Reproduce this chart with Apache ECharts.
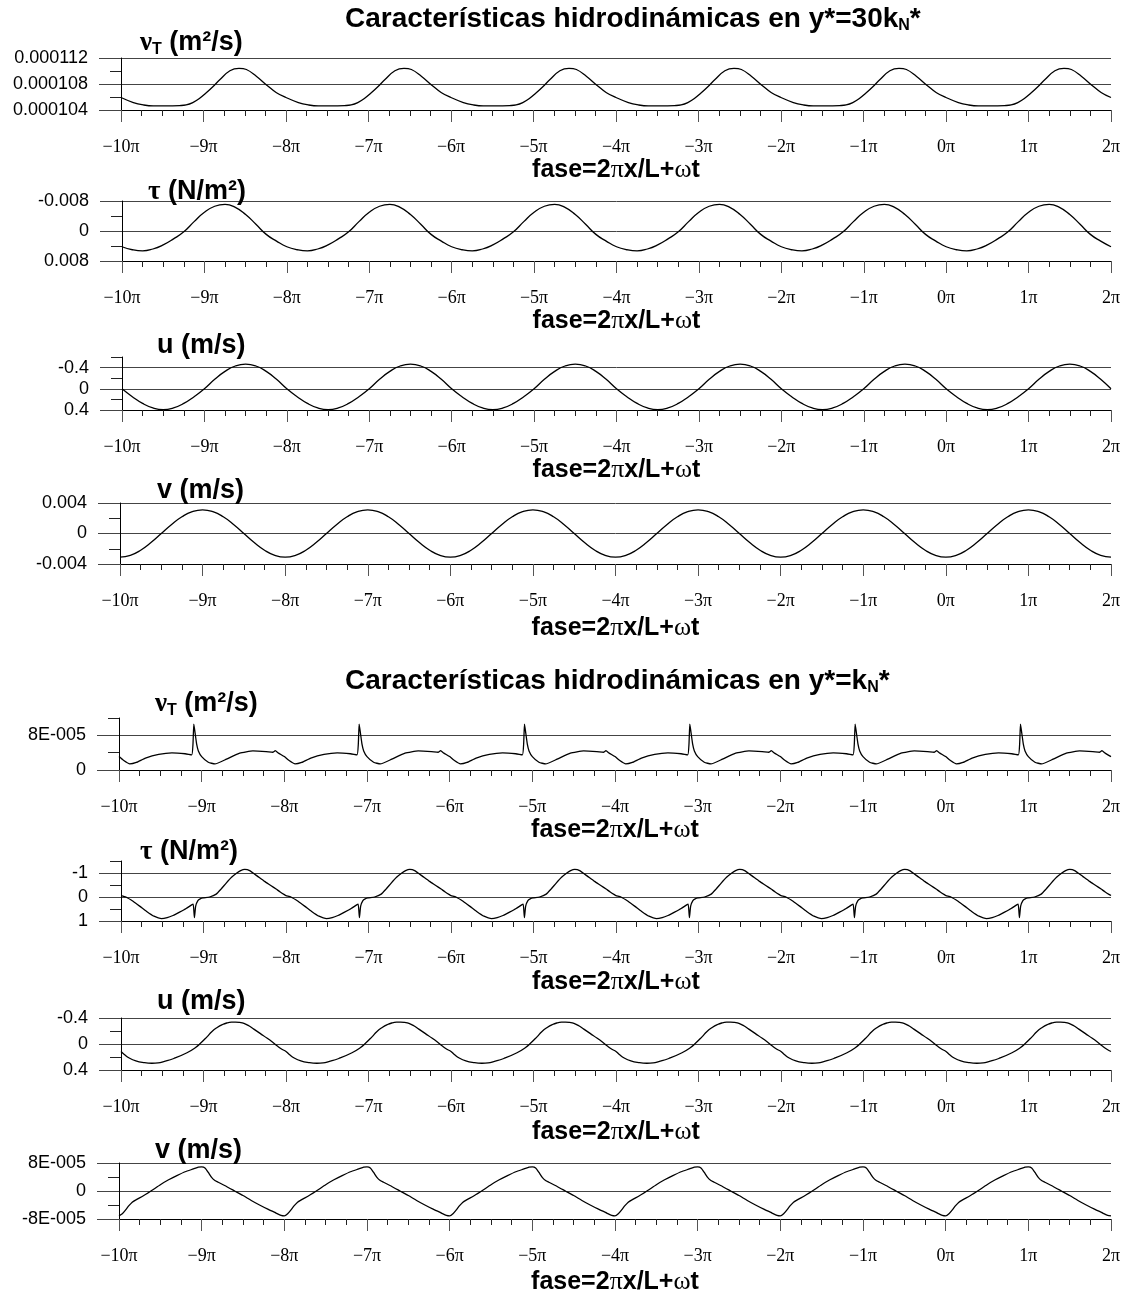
<!DOCTYPE html>
<html><head><meta charset="utf-8">
<script src="https://cdn.jsdelivr.net/npm/echarts@6/dist/echarts.min.js"></script>
<style>html,body{margin:0;padding:0;background:#fff}#c{width:1128px;height:1296px}</style>
</head><body><div id="c"></div>
<script>
// ---------- DATA ----------
// x axis: phase in units of pi, ticks from -10pi to 2pi
const xMin = -10, xMax = 2;
const xTickValues = [-10,-9,-8,-7,-6,-5,-4,-3,-2,-1,0,1,2];
// Panel 1: nu_T (m2/s) at y*=30kN*
const nuT1Phase = [0,0.15,0.27,0.39,0.55,0.71,0.79,0.87,0.95,1.03,1.11,1.2,1.32,1.43,1.52,1.64,1.76,1.88];
const nuT1Vals  = [1.0592e-4,1.0514e-4,1.0478e-4,1.0462e-4,1.0462e-4,1.0468e-4,1.0478e-4,1.0514e-4,1.0577e-4,1.0660e-4,1.0753e-4,1.0868e-4,1.1003e-4,1.1040e-4,1.1023e-4,1.0920e-4,1.0790e-4,1.0670e-4];
// Panel 2: tau (N/m2)
const tau1Phase = [0,0.125,0.25,0.375,0.5,0.625,0.75,0.875,1,1.125,1.25,1.375,1.5,1.625,1.75,1.875];
const tau1Vals  = [0.0042,0.0050,0.0053,0.0048,0.0037,0.0021,0.0002,-0.0025,-0.0050,-0.0066,-0.0071,-0.0063,-0.0044,-0.0018,0.0009,0.0027];
// Panel 3: u (m/s)
const u1Phase = [0,0.125,0.25,0.375,0.5,0.625,0.75,0.875,1,1.125,1.25,1.375,1.5,1.625,1.75,1.875];
const u1Vals  = [0,0.149,0.276,0.36,0.392,0.36,0.276,0.149,0,-0.178,-0.329,-0.43,-0.465,-0.43,-0.329,-0.178];
// Panel 4: v (m/s)
const v1Phase = [0,0.125,0.25,0.375,0.5,0.625,0.75,0.875,1,1.125,1.25,1.375,1.5,1.625,1.75,1.875];
const v1Vals  = [-0.0031,-0.00286,-0.00219,-0.00119,0,0.00119,0.00219,0.00286,0.0031,0.00286,0.00219,0.00119,0,-0.00119,-0.00219,-0.00286];
// Panel 5: nu_T (m2/s) at y*=kN*
const nuT2Phase = [0,0.05,0.13,0.21,0.32,0.48,0.64,0.8,0.88,0.895,0.905,0.92,0.94,0.96,1.0,1.08,1.16,1.3,1.46,1.62,1.78,1.86,1.89,1.93];
const nuT2Vals  = [3.1e-5,2.3e-5,1.4e-5,1.75e-5,2.75e-5,3.6e-5,3.95e-5,3.75e-5,3.5e-5,6.0e-5,10.6e-5,8.6e-5,5.9e-5,4.4e-5,3.1e-5,1.8e-5,1.4e-5,2.5e-5,3.9e-5,4.4e-5,4.25e-5,4.1e-5,4.45e-5,3.9e-5];
// Panel 6: tau (N/m2)
const tau2Phase = [0,0.06,0.146,0.23,0.307,0.4,0.489,0.56,0.63,0.71,0.79,0.852,0.875,0.89,0.905,0.932,0.96,0.993,1.074,1.154,1.21,1.275,1.34,1.4,1.45,1.5,1.56,1.66,1.74,1.82,1.88,1.93,1.98];
const tau2Vals  = [-0.06,0,0.18,0.39,0.59,0.8,0.9,0.86,0.77,0.63,0.48,0.34,0.3,0.86,0.38,0.15,0.08,0.04,0,-0.12,-0.32,-0.58,-0.82,-0.99,-1.1,-1.15,-1.1,-0.85,-0.65,-0.47,-0.33,-0.21,-0.1];
// Panel 7: u (m/s)
const u2Phase = [0,0.04,0.1,0.18,0.275,0.376,0.45,0.518,0.64,0.8,0.9,0.963,1.045,1.1,1.166,1.23,1.287,1.34,1.389,1.44,1.49,1.55,1.61,1.69,1.773,1.835,1.895,1.95];
const u2Vals  = [0.115,0.16,0.215,0.26,0.286,0.296,0.29,0.27,0.223,0.135,0.057,-0.01,-0.114,-0.19,-0.255,-0.3,-0.325,-0.336,-0.338,-0.332,-0.317,-0.28,-0.229,-0.16,-0.088,-0.03,0.031,0.08];
// Panel 8: v (m/s)
const v2Phase = [0,0.04,0.08,0.12,0.16,0.2,0.3,0.4,0.5,0.6,0.7,0.8,0.9,0.96,1.0,1.04,1.08,1.12,1.16,1.2,1.3,1.4,1.5,1.6,1.7,1.8,1.9,1.96];
const v2Vals  = [-7.1e-5,-6.5e-5,-5.4e-5,-4.2e-5,-3.2e-5,-2.6e-5,-1.3e-5,0.2e-5,1.8e-5,3.2e-5,4.4e-5,5.5e-5,6.3e-5,6.8e-5,6.9e-5,6.6e-5,5.3e-5,3.9e-5,3.0e-5,2.5e-5,1.3e-5,0,-1.3e-5,-2.7e-5,-4.0e-5,-5.2e-5,-6.3e-5,-6.95e-5];

// y axis ranges and tick values
const nuT1Range = [0.000104, 0.000112]; const nuT1Major = [0.000104,0.000108,0.000112]; const nuT1Minor = [0.000106,0.000110];
const tau1Range = [-0.008, 0.008];      const tau1Major = [-0.008,0,0.008];            const tau1Minor = [-0.004,0.004];
const u1Range   = [-0.6, 0.4];          const u1Major   = [-0.4,0,0.4];                const u1Minor   = [-0.6,-0.2,0.2];
const v1Range   = [-0.004, 0.004];      const v1Major   = [-0.004,0,0.004];            const v1Minor   = [-0.002,0.002];
const nuT2Range = [0, 0.00012];         const nuT2Major = [0,0.00008];                 const nuT2Minor = [0.00004,0.00012];
const tau2Range = [-1.5, 1];            const tau2Major = [-1,0,1];                    const tau2Minor = [-1.5,-0.5,0.5];
const u2Range   = [-0.4, 0.4];          const u2Major   = [-0.4,0,0.4];                const u2Minor   = [-0.2,0.2];
const v2Range   = [-0.00008, 0.00008];  const v2Major   = [-0.00008,0,0.00008];        const v2Minor   = [-0.00004,0.00004];

const title1 = 'Características hidrodinámicas en y*=30k';
const title2 = 'Características hidrodinámicas en y*=k';
const xName = '{b|fase=2}{g|π}{b|x/L+}{g|ω}{b|t}';

// ---------- BUILD ----------
function tile(phase, vals) {
  const out = [];
  for (let k = 0; k < 6; k++) for (let i = 0; i < phase.length; i++) out.push([xMin + 2 * k + phase[i], vals[i]]);
  out.push([xMax, vals[0]]);
  return out;
}
function fmtE(v) {
  if (v === 0) return '0';
  const e = Math.floor(Math.log10(Math.abs(v)) + 1e-9);
  const m = Math.round(v / Math.pow(10, e) * 100) / 100;
  return m + 'E' + (e < 0 ? '-' : '+') + String(Math.abs(e)).padStart(3, '0');
}
const fix = n => v => (v === 0 ? '0' : v.toFixed(n));

const panels = [
  {data: tile(nuT1Phase, nuT1Vals), range: nuT1Range, major: nuT1Major, minor: nuT1Minor, inv: false, fmt: fix(6), smooth: 0.4},
  {data: tile(tau1Phase, tau1Vals), range: tau1Range, major: tau1Major, minor: tau1Minor, inv: true,  fmt: fix(3), smooth: 0.5},
  {data: tile(u1Phase, u1Vals),     range: u1Range,   major: u1Major,   minor: u1Minor,   inv: true,  fmt: fix(1), smooth: 0.5},
  {data: tile(v1Phase, v1Vals),     range: v1Range,   major: v1Major,   minor: v1Minor,   inv: false, fmt: fix(3), smooth: 0.5},
  {data: tile(nuT2Phase, nuT2Vals), range: nuT2Range, major: nuT2Major, minor: nuT2Minor, inv: false, fmt: fmtE,   smooth: 0.15},
  {data: tile(tau2Phase, tau2Vals), range: tau2Range, major: tau2Major, minor: tau2Minor, inv: true,  fmt: v => String(v), smooth: 0.15},
  {data: tile(u2Phase, u2Vals),     range: u2Range,   major: u2Major,   minor: u2Minor,   inv: true,  fmt: fix(1), smooth: 0.5},
  {data: tile(v2Phase, v2Vals),     range: v2Range,   major: v2Major,   minor: v2Minor,   inv: false, fmt: fmtE,   smooth: 0.2}
];
// layout (pixels)
const gLeft   = [121,122,122,120,119,121,121,119];
const gTop    = [58,201,357,503,718,861,1018,1163];
const gBottom = [110,261,410,564,770,921,1070,1224];
const nameGaps = [40,40,43,51,47,48,49,50];

const richBase = {
  b: {fontFamily: 'Liberation Sans', fontWeight: 'bold', fontSize: 27, lineHeight: 30, color: '#000'},
  g: {fontFamily: 'Liberation Serif', fontSize: 27, lineHeight: 30, color: '#000'},
  s: {fontFamily: 'Liberation Sans', fontWeight: 'bold', fontSize: 16, lineHeight: 16, verticalAlign: 'bottom', color: '#000'}
};
const richTitle = {
  b: {fontFamily: 'Liberation Sans', fontWeight: 'bold', fontSize: 28, lineHeight: 30, color: '#000'},
  s: {fontFamily: 'Liberation Sans', fontWeight: 'bold', fontSize: 16, lineHeight: 16, verticalAlign: 'bottom', color: '#000'}
};
const labelDefs = [
  {t: '{g|ν}{s|T}{b| (m²/s)}', x: 140, y: 28},
  {t: '{g|τ}{b| (N/m²)}', x: 148, y: 177},
  {t: '{b|u (m/s)}', x: 157, y: 331},
  {t: '{b|v (m/s)}', x: 157, y: 476},
  {t: '{g|ν}{s|T}{b| (m²/s)}', x: 155, y: 689},
  {t: '{g|τ}{b| (N/m²)}', x: 140, y: 837},
  {t: '{b|u (m/s)}', x: 157, y: 987},
  {t: '{b|v (m/s)}', x: 155, y: 1136}
];

const grid = [], xAxis = [], yAxis = [], series = [];
const titles = [
  {text: '{b|' + title1 + '}{s|N}{b|*}', left: 345, top: 4, padding: 0, textStyle: {rich: richTitle}},
  {text: '{b|' + title2 + '}{s|N}{b|*}', left: 345, top: 666, padding: 0, textStyle: {rich: richTitle}}
];
panels.forEach((p, i) => {
  grid.push({left: gLeft[i], right: 17, top: gTop[i], height: gBottom[i] - gTop[i], containLabel: false});
  xAxis.push({
    type: 'value', gridIndex: i, min: xMin, max: xMax, interval: 1, position: 'bottom',
    axisLine: {show: true, onZero: false, lineStyle: {color: '#000', width: 1}},
    axisTick: {show: true, length: 12, lineStyle: {color: '#555'}},
    minorTick: {show: true, splitNumber: 4, length: 6, lineStyle: {color: '#222'}},
    splitLine: {show: false},
    axisLabel: {margin: 28, fontFamily: 'Liberation Serif', fontSize: 18, color: '#000',
      formatter: v => (v < 0 ? '\u2212' + (-v) : String(v)) + 'π'},
    name: xName, nameLocation: 'middle', nameGap: nameGaps[i],
    nameTextStyle: {rich: {
      b: {fontFamily: 'Liberation Sans', fontWeight: 'bold', fontSize: 25, lineHeight: 26, color: '#000'},
      g: {fontFamily: 'Liberation Serif', fontSize: 26, lineHeight: 26, color: '#000'}
    }}
  });
  yAxis.push({
    type: 'value', gridIndex: i, position: 'left', min: p.range[0], max: p.range[1], inverse: p.inv,
    axisLine: {show: true, onZero: false, lineStyle: {color: '#000', width: 1}},
    axisTick: {show: true, length: 22, customValues: p.major, lineStyle: {color: '#444'}},
    axisLabel: {show: true, customValues: p.major, margin: 33, fontFamily: 'Liberation Sans', fontSize: 18, color: '#000', formatter: p.fmt},
    splitLine: {show: true, lineStyle: {color: '#444', width: 1}}
  });
  yAxis.push({
    type: 'value', gridIndex: i, position: 'left', offset: 0, min: p.range[0], max: p.range[1], inverse: p.inv,
    axisLine: {show: false, onZero: false},
    axisTick: {show: true, length: 11, customValues: p.minor, lineStyle: {color: '#222'}},
    axisLabel: {show: false},
    splitLine: {show: false}
  });
  series.push({
    type: 'line', xAxisIndex: i, yAxisIndex: 2 * i, data: p.data, showSymbol: false, symbol: 'none',
    smooth: p.smooth, lineStyle: {color: '#000', width: 1.3}, silent: true
  });
  titles.push({text: labelDefs[i].t, left: labelDefs[i].x, top: labelDefs[i].y, padding: 0, textStyle: {rich: richBase}});
});

const chart = echarts.init(document.getElementById('c'), null, {renderer: 'canvas'});
chart.setOption({animation: false, backgroundColor: '#fff', title: titles, grid, xAxis, yAxis, series});
</script>
</body></html>
